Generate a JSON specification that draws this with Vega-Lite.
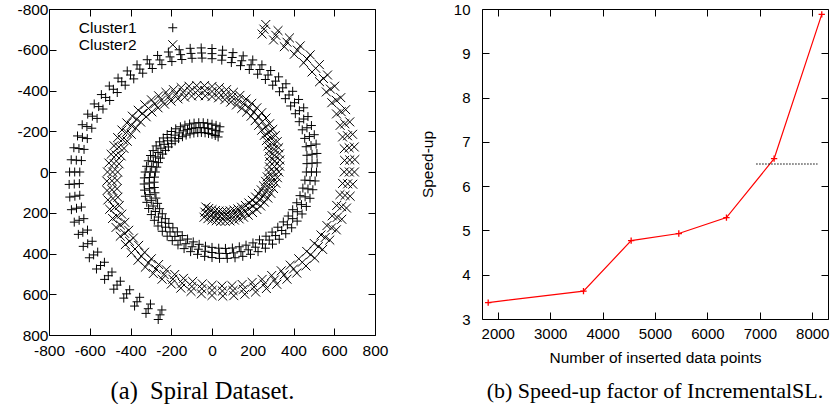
{
"$schema":"https://vega.github.io/schema/vega-lite/v6.json",
"padding":{"left":16,"top":1,"right":0,"bottom":0},
"bounds":"flush",
"spacing":107,
"config":{"font":"Liberation Sans","view":{"stroke":"black","strokeWidth":1},
"axis":{"grid":false,"domain":false,"tickColor":"black","tickSize":-7,"labelColor":"black","labelFont":"Liberation Sans","titleFont":"Liberation Sans","titleColor":"black","titleFontWeight":"normal","labelOverlap":false,"labelFlush":false,"labelExpr":"'' + datum.value"}},
"hconcat":[
{"width":326,"height":326,
"title":{"text":"(a)\u2002Spiral Dataset.","orient":"bottom","font":"Liberation Serif","fontSize":24.5,"fontWeight":"normal","color":"black","anchor":"middle","frame":"bounds","offset":21},
"layer":[
{"data":{"values":[
{"c":"Cluster1","x":30,"y":-172},{"c":"Cluster1","x":35,"y":-197},{"c":"Cluster1","x":39,"y":-222},
{"c":"Cluster1","x":16,"y":-179},{"c":"Cluster1","x":18,"y":-204},{"c":"Cluster1","x":20,"y":-229},
{"c":"Cluster1","x":0,"y":-185},{"c":"Cluster1","x":0,"y":-210},{"c":"Cluster1","x":0,"y":-235},
{"c":"Cluster1","x":-17,"y":-189},{"c":"Cluster1","x":-19,"y":-214},{"c":"Cluster1","x":-21,"y":-239},
{"c":"Cluster1","x":-34,"y":-192},{"c":"Cluster1","x":-38,"y":-217},{"c":"Cluster1","x":-43,"y":-242},
{"c":"Cluster1","x":-52,"y":-194},{"c":"Cluster1","x":-58,"y":-218},{"c":"Cluster1","x":-65,"y":-242},
{"c":"Cluster1","x":-70,"y":-193},{"c":"Cluster1","x":-79,"y":-217},{"c":"Cluster1","x":-88,"y":-240},
{"c":"Cluster1","x":-89,"y":-191},{"c":"Cluster1","x":-100,"y":-214},{"c":"Cluster1","x":-110,"y":-236},
{"c":"Cluster1","x":-108,"y":-187},{"c":"Cluster1","x":-120,"y":-209},{"c":"Cluster1","x":-133,"y":-230},
{"c":"Cluster1","x":-127,"y":-181},{"c":"Cluster1","x":-141,"y":-202},{"c":"Cluster1","x":-155,"y":-222},
{"c":"Cluster1","x":-145,"y":-173},{"c":"Cluster1","x":-161,"y":-192},{"c":"Cluster1","x":-178,"y":-212},
{"c":"Cluster1","x":-164,"y":-164},{"c":"Cluster1","x":-181,"y":-181},{"c":"Cluster1","x":-199,"y":-199},
{"c":"Cluster1","x":-181,"y":-152},{"c":"Cluster1","x":-200,"y":-168},{"c":"Cluster1","x":-220,"y":-184},
{"c":"Cluster1","x":-198,"y":-139},{"c":"Cluster1","x":-218,"y":-153},{"c":"Cluster1","x":-239,"y":-167},
{"c":"Cluster1","x":-214,"y":-123},{"c":"Cluster1","x":-235,"y":-136},{"c":"Cluster1","x":-257,"y":-148},
{"c":"Cluster1","x":-228,"y":-106},{"c":"Cluster1","x":-251,"y":-117},{"c":"Cluster1","x":-274,"y":-128},
{"c":"Cluster1","x":-242,"y":-88},{"c":"Cluster1","x":-265,"y":-96},{"c":"Cluster1","x":-289,"y":-105},
{"c":"Cluster1","x":-253,"y":-68},{"c":"Cluster1","x":-277,"y":-74},{"c":"Cluster1","x":-302,"y":-81},
{"c":"Cluster1","x":-263,"y":-46},{"c":"Cluster1","x":-288,"y":-51},{"c":"Cluster1","x":-313,"y":-55},
{"c":"Cluster1","x":-271,"y":-24},{"c":"Cluster1","x":-296,"y":-26},{"c":"Cluster1","x":-321,"y":-28},
{"c":"Cluster1","x":-278,"y":0},{"c":"Cluster1","x":-303,"y":0},{"c":"Cluster1","x":-328,"y":0},
{"c":"Cluster1","x":-282,"y":25},{"c":"Cluster1","x":-307,"y":27},{"c":"Cluster1","x":-332,"y":29},
{"c":"Cluster1","x":-284,"y":50},{"c":"Cluster1","x":-308,"y":54},{"c":"Cluster1","x":-333,"y":59},
{"c":"Cluster1","x":-283,"y":76},{"c":"Cluster1","x":-307,"y":82},{"c":"Cluster1","x":-331,"y":89},
{"c":"Cluster1","x":-280,"y":102},{"c":"Cluster1","x":-304,"y":111},{"c":"Cluster1","x":-327,"y":119},
{"c":"Cluster1","x":-275,"y":128},{"c":"Cluster1","x":-298,"y":139},{"c":"Cluster1","x":-320,"y":149},
{"c":"Cluster1","x":-267,"y":154},{"c":"Cluster1","x":-289,"y":167},{"c":"Cluster1","x":-311,"y":179},
{"c":"Cluster1","x":-257,"y":180},{"c":"Cluster1","x":-278,"y":194},{"c":"Cluster1","x":-298,"y":209},
{"c":"Cluster1","x":-244,"y":205},{"c":"Cluster1","x":-263,"y":221},{"c":"Cluster1","x":-283,"y":237},
{"c":"Cluster1","x":-229,"y":229},{"c":"Cluster1","x":-247,"y":247},{"c":"Cluster1","x":-265,"y":265},
{"c":"Cluster1","x":-212,"y":252},{"c":"Cluster1","x":-228,"y":271},{"c":"Cluster1","x":-244,"y":291},
{"c":"Cluster1","x":-192,"y":274},{"c":"Cluster1","x":-206,"y":294},{"c":"Cluster1","x":-220,"y":315},
{"c":"Cluster1","x":-170,"y":294},{"c":"Cluster1","x":-182,"y":316},{"c":"Cluster1","x":-195,"y":337},
{"c":"Cluster1","x":-146,"y":312},{"c":"Cluster1","x":-156,"y":335},{"c":"Cluster1","x":-167,"y":358},
{"c":"Cluster1","x":-120,"y":329},{"c":"Cluster1","x":-128,"y":352},{"c":"Cluster1","x":-137,"y":376},
{"c":"Cluster1","x":-92,"y":343},{"c":"Cluster1","x":-98,"y":367},{"c":"Cluster1","x":-105,"y":391},
{"c":"Cluster1","x":-63,"y":355},{"c":"Cluster1","x":-67,"y":379},{"c":"Cluster1","x":-71,"y":404},
{"c":"Cluster1","x":-32,"y":364},{"c":"Cluster1","x":-34,"y":389},{"c":"Cluster1","x":-36,"y":414},
{"c":"Cluster1","x":0,"y":370},{"c":"Cluster1","x":0,"y":395},{"c":"Cluster1","x":0,"y":420},
{"c":"Cluster1","x":33,"y":374},{"c":"Cluster1","x":35,"y":399},{"c":"Cluster1","x":37,"y":424},
{"c":"Cluster1","x":66,"y":375},{"c":"Cluster1","x":70,"y":400},{"c":"Cluster1","x":75,"y":424},
{"c":"Cluster1","x":100,"y":373},{"c":"Cluster1","x":106,"y":397},{"c":"Cluster1","x":113,"y":421},
{"c":"Cluster1","x":134,"y":367},{"c":"Cluster1","x":142,"y":391},{"c":"Cluster1","x":151,"y":414},
{"c":"Cluster1","x":167,"y":359},{"c":"Cluster1","x":178,"y":382},{"c":"Cluster1","x":189,"y":404},
{"c":"Cluster1","x":201,"y":348},{"c":"Cluster1","x":213,"y":369},{"c":"Cluster1","x":226,"y":391},
{"c":"Cluster1","x":233,"y":333},{"c":"Cluster1","x":248,"y":353},{"c":"Cluster1","x":262,"y":374},
{"c":"Cluster1","x":265,"y":315},{"c":"Cluster1","x":281,"y":334},{"c":"Cluster1","x":297,"y":354},
{"c":"Cluster1","x":295,"y":295},{"c":"Cluster1","x":312,"y":312},{"c":"Cluster1","x":330,"y":330},
{"c":"Cluster1","x":323,"y":271},{"c":"Cluster1","x":342,"y":287},{"c":"Cluster1","x":362,"y":303},
{"c":"Cluster1","x":350,"y":245},{"c":"Cluster1","x":370,"y":259},{"c":"Cluster1","x":391,"y":274},
{"c":"Cluster1","x":374,"y":216},{"c":"Cluster1","x":396,"y":229},{"c":"Cluster1","x":418,"y":241},
{"c":"Cluster1","x":396,"y":185},{"c":"Cluster1","x":419,"y":195},{"c":"Cluster1","x":442,"y":206},
{"c":"Cluster1","x":416,"y":151},{"c":"Cluster1","x":439,"y":160},{"c":"Cluster1","x":463,"y":169},
{"c":"Cluster1","x":432,"y":116},{"c":"Cluster1","x":457,"y":122},{"c":"Cluster1","x":481,"y":129},
{"c":"Cluster1","x":446,"y":79},{"c":"Cluster1","x":471,"y":83},{"c":"Cluster1","x":495,"y":87},
{"c":"Cluster1","x":456,"y":40},{"c":"Cluster1","x":481,"y":42},{"c":"Cluster1","x":506,"y":44},
{"c":"Cluster1","x":463,"y":0},{"c":"Cluster1","x":488,"y":0},{"c":"Cluster1","x":513,"y":0},
{"c":"Cluster1","x":466,"y":-41},{"c":"Cluster1","x":491,"y":-43},{"c":"Cluster1","x":516,"y":-45},
{"c":"Cluster1","x":466,"y":-82},{"c":"Cluster1","x":491,"y":-87},{"c":"Cluster1","x":515,"y":-91},
{"c":"Cluster1","x":462,"y":-124},{"c":"Cluster1","x":486,"y":-130},{"c":"Cluster1","x":511,"y":-137},
{"c":"Cluster1","x":455,"y":-165},{"c":"Cluster1","x":478,"y":-174},{"c":"Cluster1","x":502,"y":-183},
{"c":"Cluster1","x":443,"y":-207},{"c":"Cluster1","x":466,"y":-217},{"c":"Cluster1","x":488,"y":-228},
{"c":"Cluster1","x":428,"y":-247},{"c":"Cluster1","x":450,"y":-260},{"c":"Cluster1","x":471,"y":-272},
{"c":"Cluster1","x":409,"y":-286},{"c":"Cluster1","x":429,"y":-301},{"c":"Cluster1","x":450,"y":-315},
{"c":"Cluster1","x":386,"y":-324},{"c":"Cluster1","x":405,"y":-340},{"c":"Cluster1","x":425,"y":-356},
{"c":"Cluster1","x":360,"y":-360},{"c":"Cluster1","x":378,"y":-378},{"c":"Cluster1","x":396,"y":-396},
{"c":"Cluster1","x":331,"y":-394},{"c":"Cluster1","x":347,"y":-413},{"c":"Cluster1","x":363,"y":-433},
{"c":"Cluster1","x":298,"y":-426},{"c":"Cluster1","x":312,"y":-446},{"c":"Cluster1","x":327,"y":-467},
{"c":"Cluster1","x":262,"y":-454},{"c":"Cluster1","x":275,"y":-476},{"c":"Cluster1","x":288,"y":-498},
{"c":"Cluster1","x":224,"y":-480},{"c":"Cluster1","x":235,"y":-503},{"c":"Cluster1","x":245,"y":-526},
{"c":"Cluster1","x":183,"y":-503},{"c":"Cluster1","x":192,"y":-526},{"c":"Cluster1","x":200,"y":-550},
{"c":"Cluster1","x":140,"y":-522},{"c":"Cluster1","x":146,"y":-546},{"c":"Cluster1","x":153,"y":-570},
{"c":"Cluster1","x":95,"y":-537},{"c":"Cluster1","x":99,"y":-562},{"c":"Cluster1","x":103,"y":-586},
{"c":"Cluster1","x":48,"y":-549},{"c":"Cluster1","x":50,"y":-573},{"c":"Cluster1","x":52,"y":-598},
{"c":"Cluster1","x":0,"y":-556},{"c":"Cluster1","x":0,"y":-581},{"c":"Cluster1","x":0,"y":-606},
{"c":"Cluster1","x":-49,"y":-559},{"c":"Cluster1","x":-51,"y":-584},{"c":"Cluster1","x":-53,"y":-609},
{"c":"Cluster1","x":-98,"y":-558},{"c":"Cluster1","x":-103,"y":-582},{"c":"Cluster1","x":-107,"y":-607},
{"c":"Cluster1","x":-148,"y":-552},{"c":"Cluster1","x":-154,"y":-576},{"c":"Cluster1","x":-161,"y":-600},
{"c":"Cluster1","x":-197,"y":-542},{"c":"Cluster1","x":-206,"y":-565},{"c":"Cluster1","x":-214,"y":-589},
{"c":"Cluster1","x":-246,"y":-527},{"c":"Cluster1","x":-256,"y":-550},{"c":"Cluster1","x":-267,"y":-572},
{"c":"Cluster1","x":-293,"y":-508},{"c":"Cluster1","x":-306,"y":-530},{"c":"Cluster1","x":-318,"y":-551},
{"c":"Cluster1","x":-340,"y":-485},{"c":"Cluster1","x":-354,"y":-505},{"c":"Cluster1","x":-368,"y":-526},
{"c":"Cluster1","x":-384,"y":-457},{"c":"Cluster1","x":-400,"y":-476},{"c":"Cluster1","x":-416,"y":-496},
{"c":"Cluster1","x":-426,"y":-426},{"c":"Cluster1","x":-443,"y":-443},{"c":"Cluster1","x":-461,"y":-461},
{"c":"Cluster1","x":-465,"y":-390},{"c":"Cluster1","x":-484,"y":-406},{"c":"Cluster1","x":-504,"y":-422},
{"c":"Cluster1","x":-502,"y":-351},{"c":"Cluster1","x":-522,"y":-366},{"c":"Cluster1","x":-543,"y":-380},
{"c":"Cluster1","x":-535,"y":-309},{"c":"Cluster1","x":-556,"y":-321},{"c":"Cluster1","x":-578,"y":-334},
{"c":"Cluster1","x":-564,"y":-263},{"c":"Cluster1","x":-587,"y":-274},{"c":"Cluster1","x":-610,"y":-284},
{"c":"Cluster1","x":-590,"y":-215},{"c":"Cluster1","x":-614,"y":-223},{"c":"Cluster1","x":-637,"y":-232},
{"c":"Cluster1","x":-612,"y":-164},{"c":"Cluster1","x":-636,"y":-170},{"c":"Cluster1","x":-660,"y":-177},
{"c":"Cluster1","x":-628,"y":-111},{"c":"Cluster1","x":-653,"y":-115},{"c":"Cluster1","x":-678,"y":-119},
{"c":"Cluster1","x":-641,"y":-56},{"c":"Cluster1","x":-666,"y":-58},{"c":"Cluster1","x":-691,"y":-60},
{"c":"Cluster1","x":-649,"y":0},{"c":"Cluster1","x":-674,"y":0},{"c":"Cluster1","x":-699,"y":0},
{"c":"Cluster1","x":-651,"y":57},{"c":"Cluster1","x":-676,"y":59},{"c":"Cluster1","x":-701,"y":61},
{"c":"Cluster1","x":-649,"y":114},{"c":"Cluster1","x":-673,"y":119},{"c":"Cluster1","x":-698,"y":123},
{"c":"Cluster1","x":-641,"y":172},{"c":"Cluster1","x":-665,"y":178},{"c":"Cluster1","x":-690,"y":185},
{"c":"Cluster1","x":-629,"y":229},{"c":"Cluster1","x":-652,"y":237},{"c":"Cluster1","x":-676,"y":246},
{"c":"Cluster1","x":-611,"y":285},{"c":"Cluster1","x":-634,"y":296},{"c":"Cluster1","x":-656,"y":306},
{"c":"Cluster1","x":-588,"y":340},{"c":"Cluster1","x":-610,"y":352},{"c":"Cluster1","x":-632,"y":365},
{"c":"Cluster1","x":-561,"y":393},{"c":"Cluster1","x":-581,"y":407},{"c":"Cluster1","x":-602,"y":421},
{"c":"Cluster1","x":-528,"y":443},{"c":"Cluster1","x":-547,"y":459},{"c":"Cluster1","x":-567,"y":476},
{"c":"Cluster1","x":-491,"y":491},{"c":"Cluster1","x":-509,"y":509},{"c":"Cluster1","x":-527,"y":527},
{"c":"Cluster1","x":-450,"y":536},{"c":"Cluster1","x":-466,"y":555},{"c":"Cluster1","x":-482,"y":575},
{"c":"Cluster1","x":-404,"y":578},{"c":"Cluster1","x":-419,"y":598},{"c":"Cluster1","x":-433,"y":619},
{"c":"Cluster1","x":-355,"y":615},{"c":"Cluster1","x":-368,"y":637},{"c":"Cluster1","x":-380,"y":658},
{"c":"Cluster1","x":-302,"y":648},{"c":"Cluster1","x":-313,"y":671},{"c":"Cluster1","x":-324,"y":694},
{"c":"Cluster1","x":-246,"y":677},{"c":"Cluster1","x":-255,"y":701},{"c":"Cluster1","x":-264,"y":724},
{"c":"Cluster2","x":-30,"y":172},{"c":"Cluster2","x":-35,"y":197},{"c":"Cluster2","x":-39,"y":222},
{"c":"Cluster2","x":-16,"y":179},{"c":"Cluster2","x":-18,"y":204},{"c":"Cluster2","x":-20,"y":229},
{"c":"Cluster2","x":0,"y":185},{"c":"Cluster2","x":0,"y":210},{"c":"Cluster2","x":0,"y":235},
{"c":"Cluster2","x":17,"y":189},{"c":"Cluster2","x":19,"y":214},{"c":"Cluster2","x":21,"y":239},
{"c":"Cluster2","x":34,"y":192},{"c":"Cluster2","x":38,"y":217},{"c":"Cluster2","x":43,"y":242},
{"c":"Cluster2","x":52,"y":194},{"c":"Cluster2","x":58,"y":218},{"c":"Cluster2","x":65,"y":242},
{"c":"Cluster2","x":70,"y":193},{"c":"Cluster2","x":79,"y":217},{"c":"Cluster2","x":88,"y":240},
{"c":"Cluster2","x":89,"y":191},{"c":"Cluster2","x":100,"y":214},{"c":"Cluster2","x":110,"y":236},
{"c":"Cluster2","x":108,"y":187},{"c":"Cluster2","x":120,"y":209},{"c":"Cluster2","x":133,"y":230},
{"c":"Cluster2","x":127,"y":181},{"c":"Cluster2","x":141,"y":202},{"c":"Cluster2","x":155,"y":222},
{"c":"Cluster2","x":145,"y":173},{"c":"Cluster2","x":161,"y":192},{"c":"Cluster2","x":178,"y":212},
{"c":"Cluster2","x":164,"y":164},{"c":"Cluster2","x":181,"y":181},{"c":"Cluster2","x":199,"y":199},
{"c":"Cluster2","x":181,"y":152},{"c":"Cluster2","x":200,"y":168},{"c":"Cluster2","x":220,"y":184},
{"c":"Cluster2","x":198,"y":139},{"c":"Cluster2","x":218,"y":153},{"c":"Cluster2","x":239,"y":167},
{"c":"Cluster2","x":214,"y":123},{"c":"Cluster2","x":235,"y":136},{"c":"Cluster2","x":257,"y":148},
{"c":"Cluster2","x":228,"y":106},{"c":"Cluster2","x":251,"y":117},{"c":"Cluster2","x":274,"y":128},
{"c":"Cluster2","x":242,"y":88},{"c":"Cluster2","x":265,"y":96},{"c":"Cluster2","x":289,"y":105},
{"c":"Cluster2","x":253,"y":68},{"c":"Cluster2","x":277,"y":74},{"c":"Cluster2","x":302,"y":81},
{"c":"Cluster2","x":263,"y":46},{"c":"Cluster2","x":288,"y":51},{"c":"Cluster2","x":313,"y":55},
{"c":"Cluster2","x":271,"y":24},{"c":"Cluster2","x":296,"y":26},{"c":"Cluster2","x":321,"y":28},
{"c":"Cluster2","x":278,"y":0},{"c":"Cluster2","x":303,"y":0},{"c":"Cluster2","x":328,"y":0},
{"c":"Cluster2","x":282,"y":-25},{"c":"Cluster2","x":307,"y":-27},{"c":"Cluster2","x":332,"y":-29},
{"c":"Cluster2","x":284,"y":-50},{"c":"Cluster2","x":308,"y":-54},{"c":"Cluster2","x":333,"y":-59},
{"c":"Cluster2","x":283,"y":-76},{"c":"Cluster2","x":307,"y":-82},{"c":"Cluster2","x":331,"y":-89},
{"c":"Cluster2","x":280,"y":-102},{"c":"Cluster2","x":304,"y":-111},{"c":"Cluster2","x":327,"y":-119},
{"c":"Cluster2","x":275,"y":-128},{"c":"Cluster2","x":298,"y":-139},{"c":"Cluster2","x":320,"y":-149},
{"c":"Cluster2","x":267,"y":-154},{"c":"Cluster2","x":289,"y":-167},{"c":"Cluster2","x":311,"y":-179},
{"c":"Cluster2","x":257,"y":-180},{"c":"Cluster2","x":278,"y":-194},{"c":"Cluster2","x":298,"y":-209},
{"c":"Cluster2","x":244,"y":-205},{"c":"Cluster2","x":263,"y":-221},{"c":"Cluster2","x":283,"y":-237},
{"c":"Cluster2","x":229,"y":-229},{"c":"Cluster2","x":247,"y":-247},{"c":"Cluster2","x":265,"y":-265},
{"c":"Cluster2","x":212,"y":-252},{"c":"Cluster2","x":228,"y":-271},{"c":"Cluster2","x":244,"y":-291},
{"c":"Cluster2","x":192,"y":-274},{"c":"Cluster2","x":206,"y":-294},{"c":"Cluster2","x":220,"y":-315},
{"c":"Cluster2","x":170,"y":-294},{"c":"Cluster2","x":182,"y":-316},{"c":"Cluster2","x":195,"y":-337},
{"c":"Cluster2","x":146,"y":-312},{"c":"Cluster2","x":156,"y":-335},{"c":"Cluster2","x":167,"y":-358},
{"c":"Cluster2","x":120,"y":-329},{"c":"Cluster2","x":128,"y":-352},{"c":"Cluster2","x":137,"y":-376},
{"c":"Cluster2","x":92,"y":-343},{"c":"Cluster2","x":98,"y":-367},{"c":"Cluster2","x":105,"y":-391},
{"c":"Cluster2","x":63,"y":-355},{"c":"Cluster2","x":67,"y":-379},{"c":"Cluster2","x":71,"y":-404},
{"c":"Cluster2","x":32,"y":-364},{"c":"Cluster2","x":34,"y":-389},{"c":"Cluster2","x":36,"y":-414},
{"c":"Cluster2","x":0,"y":-370},{"c":"Cluster2","x":0,"y":-395},{"c":"Cluster2","x":0,"y":-420},
{"c":"Cluster2","x":-33,"y":-374},{"c":"Cluster2","x":-35,"y":-399},{"c":"Cluster2","x":-37,"y":-424},
{"c":"Cluster2","x":-66,"y":-375},{"c":"Cluster2","x":-70,"y":-400},{"c":"Cluster2","x":-75,"y":-424},
{"c":"Cluster2","x":-100,"y":-373},{"c":"Cluster2","x":-106,"y":-397},{"c":"Cluster2","x":-113,"y":-421},
{"c":"Cluster2","x":-134,"y":-367},{"c":"Cluster2","x":-142,"y":-391},{"c":"Cluster2","x":-151,"y":-414},
{"c":"Cluster2","x":-167,"y":-359},{"c":"Cluster2","x":-178,"y":-382},{"c":"Cluster2","x":-189,"y":-404},
{"c":"Cluster2","x":-201,"y":-348},{"c":"Cluster2","x":-213,"y":-369},{"c":"Cluster2","x":-226,"y":-391},
{"c":"Cluster2","x":-233,"y":-333},{"c":"Cluster2","x":-248,"y":-353},{"c":"Cluster2","x":-262,"y":-374},
{"c":"Cluster2","x":-265,"y":-315},{"c":"Cluster2","x":-281,"y":-334},{"c":"Cluster2","x":-297,"y":-354},
{"c":"Cluster2","x":-295,"y":-295},{"c":"Cluster2","x":-312,"y":-312},{"c":"Cluster2","x":-330,"y":-330},
{"c":"Cluster2","x":-323,"y":-271},{"c":"Cluster2","x":-342,"y":-287},{"c":"Cluster2","x":-362,"y":-303},
{"c":"Cluster2","x":-350,"y":-245},{"c":"Cluster2","x":-370,"y":-259},{"c":"Cluster2","x":-391,"y":-274},
{"c":"Cluster2","x":-374,"y":-216},{"c":"Cluster2","x":-396,"y":-229},{"c":"Cluster2","x":-418,"y":-241},
{"c":"Cluster2","x":-396,"y":-185},{"c":"Cluster2","x":-419,"y":-195},{"c":"Cluster2","x":-442,"y":-206},
{"c":"Cluster2","x":-416,"y":-151},{"c":"Cluster2","x":-439,"y":-160},{"c":"Cluster2","x":-463,"y":-169},
{"c":"Cluster2","x":-432,"y":-116},{"c":"Cluster2","x":-457,"y":-122},{"c":"Cluster2","x":-481,"y":-129},
{"c":"Cluster2","x":-446,"y":-79},{"c":"Cluster2","x":-471,"y":-83},{"c":"Cluster2","x":-495,"y":-87},
{"c":"Cluster2","x":-456,"y":-40},{"c":"Cluster2","x":-481,"y":-42},{"c":"Cluster2","x":-506,"y":-44},
{"c":"Cluster2","x":-463,"y":0},{"c":"Cluster2","x":-488,"y":0},{"c":"Cluster2","x":-513,"y":0},
{"c":"Cluster2","x":-466,"y":41},{"c":"Cluster2","x":-491,"y":43},{"c":"Cluster2","x":-516,"y":45},
{"c":"Cluster2","x":-466,"y":82},{"c":"Cluster2","x":-491,"y":87},{"c":"Cluster2","x":-515,"y":91},
{"c":"Cluster2","x":-462,"y":124},{"c":"Cluster2","x":-486,"y":130},{"c":"Cluster2","x":-511,"y":137},
{"c":"Cluster2","x":-455,"y":165},{"c":"Cluster2","x":-478,"y":174},{"c":"Cluster2","x":-502,"y":183},
{"c":"Cluster2","x":-443,"y":207},{"c":"Cluster2","x":-466,"y":217},{"c":"Cluster2","x":-488,"y":228},
{"c":"Cluster2","x":-428,"y":247},{"c":"Cluster2","x":-450,"y":260},{"c":"Cluster2","x":-471,"y":272},
{"c":"Cluster2","x":-409,"y":286},{"c":"Cluster2","x":-429,"y":301},{"c":"Cluster2","x":-450,"y":315},
{"c":"Cluster2","x":-386,"y":324},{"c":"Cluster2","x":-405,"y":340},{"c":"Cluster2","x":-425,"y":356},
{"c":"Cluster2","x":-360,"y":360},{"c":"Cluster2","x":-378,"y":378},{"c":"Cluster2","x":-396,"y":396},
{"c":"Cluster2","x":-331,"y":394},{"c":"Cluster2","x":-347,"y":413},{"c":"Cluster2","x":-363,"y":433},
{"c":"Cluster2","x":-298,"y":426},{"c":"Cluster2","x":-312,"y":446},{"c":"Cluster2","x":-327,"y":467},
{"c":"Cluster2","x":-262,"y":454},{"c":"Cluster2","x":-275,"y":476},{"c":"Cluster2","x":-288,"y":498},
{"c":"Cluster2","x":-224,"y":480},{"c":"Cluster2","x":-235,"y":503},{"c":"Cluster2","x":-245,"y":526},
{"c":"Cluster2","x":-183,"y":503},{"c":"Cluster2","x":-192,"y":526},{"c":"Cluster2","x":-200,"y":550},
{"c":"Cluster2","x":-140,"y":522},{"c":"Cluster2","x":-146,"y":546},{"c":"Cluster2","x":-153,"y":570},
{"c":"Cluster2","x":-95,"y":537},{"c":"Cluster2","x":-99,"y":562},{"c":"Cluster2","x":-103,"y":586},
{"c":"Cluster2","x":-48,"y":549},{"c":"Cluster2","x":-50,"y":573},{"c":"Cluster2","x":-52,"y":598},
{"c":"Cluster2","x":0,"y":556},{"c":"Cluster2","x":0,"y":581},{"c":"Cluster2","x":0,"y":606},
{"c":"Cluster2","x":49,"y":559},{"c":"Cluster2","x":51,"y":584},{"c":"Cluster2","x":53,"y":609},
{"c":"Cluster2","x":98,"y":558},{"c":"Cluster2","x":103,"y":582},{"c":"Cluster2","x":107,"y":607},
{"c":"Cluster2","x":148,"y":552},{"c":"Cluster2","x":154,"y":576},{"c":"Cluster2","x":161,"y":600},
{"c":"Cluster2","x":197,"y":542},{"c":"Cluster2","x":206,"y":565},{"c":"Cluster2","x":214,"y":589},
{"c":"Cluster2","x":246,"y":527},{"c":"Cluster2","x":256,"y":550},{"c":"Cluster2","x":267,"y":572},
{"c":"Cluster2","x":293,"y":508},{"c":"Cluster2","x":306,"y":530},{"c":"Cluster2","x":318,"y":551},
{"c":"Cluster2","x":340,"y":485},{"c":"Cluster2","x":354,"y":505},{"c":"Cluster2","x":368,"y":526},
{"c":"Cluster2","x":384,"y":457},{"c":"Cluster2","x":400,"y":476},{"c":"Cluster2","x":416,"y":496},
{"c":"Cluster2","x":426,"y":426},{"c":"Cluster2","x":443,"y":443},{"c":"Cluster2","x":461,"y":461},
{"c":"Cluster2","x":465,"y":390},{"c":"Cluster2","x":484,"y":406},{"c":"Cluster2","x":504,"y":422},
{"c":"Cluster2","x":502,"y":351},{"c":"Cluster2","x":522,"y":366},{"c":"Cluster2","x":543,"y":380},
{"c":"Cluster2","x":535,"y":309},{"c":"Cluster2","x":556,"y":321},{"c":"Cluster2","x":578,"y":334},
{"c":"Cluster2","x":564,"y":263},{"c":"Cluster2","x":587,"y":274},{"c":"Cluster2","x":610,"y":284},
{"c":"Cluster2","x":590,"y":215},{"c":"Cluster2","x":614,"y":223},{"c":"Cluster2","x":637,"y":232},
{"c":"Cluster2","x":612,"y":164},{"c":"Cluster2","x":636,"y":170},{"c":"Cluster2","x":660,"y":177},
{"c":"Cluster2","x":628,"y":111},{"c":"Cluster2","x":653,"y":115},{"c":"Cluster2","x":678,"y":119},
{"c":"Cluster2","x":641,"y":56},{"c":"Cluster2","x":666,"y":58},{"c":"Cluster2","x":691,"y":60},
{"c":"Cluster2","x":649,"y":0},{"c":"Cluster2","x":674,"y":0},{"c":"Cluster2","x":699,"y":0},
{"c":"Cluster2","x":651,"y":-57},{"c":"Cluster2","x":676,"y":-59},{"c":"Cluster2","x":701,"y":-61},
{"c":"Cluster2","x":649,"y":-114},{"c":"Cluster2","x":673,"y":-119},{"c":"Cluster2","x":698,"y":-123},
{"c":"Cluster2","x":641,"y":-172},{"c":"Cluster2","x":665,"y":-178},{"c":"Cluster2","x":690,"y":-185},
{"c":"Cluster2","x":629,"y":-229},{"c":"Cluster2","x":652,"y":-237},{"c":"Cluster2","x":676,"y":-246},
{"c":"Cluster2","x":611,"y":-285},{"c":"Cluster2","x":634,"y":-296},{"c":"Cluster2","x":656,"y":-306},
{"c":"Cluster2","x":588,"y":-340},{"c":"Cluster2","x":610,"y":-352},{"c":"Cluster2","x":632,"y":-365},
{"c":"Cluster2","x":561,"y":-393},{"c":"Cluster2","x":581,"y":-407},{"c":"Cluster2","x":602,"y":-421},
{"c":"Cluster2","x":528,"y":-443},{"c":"Cluster2","x":547,"y":-459},{"c":"Cluster2","x":567,"y":-476},
{"c":"Cluster2","x":491,"y":-491},{"c":"Cluster2","x":509,"y":-509},{"c":"Cluster2","x":527,"y":-527},
{"c":"Cluster2","x":450,"y":-536},{"c":"Cluster2","x":466,"y":-555},{"c":"Cluster2","x":482,"y":-575},
{"c":"Cluster2","x":404,"y":-578},{"c":"Cluster2","x":419,"y":-598},{"c":"Cluster2","x":433,"y":-619},
{"c":"Cluster2","x":355,"y":-615},{"c":"Cluster2","x":368,"y":-637},{"c":"Cluster2","x":380,"y":-658},
{"c":"Cluster2","x":302,"y":-648},{"c":"Cluster2","x":313,"y":-671},{"c":"Cluster2","x":324,"y":-694},
{"c":"Cluster2","x":246,"y":-677},{"c":"Cluster2","x":255,"y":-701},{"c":"Cluster2","x":264,"y":-724}
]},
"mark":{"type":"point","filled":false,"size":80,"strokeWidth":1,"color":"black","opacity":1},
"encoding":{
"x":{"field":"x","type":"quantitative","scale":{"domain":[-800,800],"nice":false,"zero":false},"axis":{"orient":"bottom","values":[-800,-600,-400,-200,0,200,400,600,800],"title":null,"labelFontSize":15.5,"labelPadding":15}},
"y":{"field":"y","type":"quantitative","scale":{"domain":[-800,800],"reverse":true,"nice":false,"zero":false},"axis":{"orient":"left","values":[-800,-600,-400,-200,0,200,400,600,800],"title":null,"labelFontSize":15.5,"labelPadding":8}},
"shape":{"field":"c","type":"nominal","scale":{"domain":["Cluster1","Cluster2"],"range":["M-1,0H1M0,-1V1","M-1,-1L1,1M-1,1L1,-1"]},
"legend":{"orient":"none","legendX":116,"legendY":11,"title":null,"labelFont":"Liberation Sans","labelFontSize":15.5,"labelColor":"black","labelAlign":"right","labelOffset":-44,"symbolSize":80,"symbolStrokeWidth":1,"symbolStrokeColor":"black","symbolFillColor":"transparent","rowPadding":-1.5}}
}},
{"data":{"values":[{"x":0,"y":0}]},
"mark":{"type":"point","opacity":0},
"encoding":{
"x":{"field":"x","type":"quantitative","scale":{"domain":[-800,800],"nice":false,"zero":false},"axis":{"orient":"top","values":[-800,-600,-400,-200,0,200,400,600,800],"title":null,"labels":false}},
"y":{"field":"y","type":"quantitative","scale":{"domain":[-800,800],"reverse":true,"nice":false,"zero":false},"axis":{"orient":"right","values":[-800,-600,-400,-200,0,200,400,600,800],"title":null,"labels":false}}
}}
],
"resolve":{"axis":{"x":"independent","y":"independent"}}
},
{"width":346,"height":310,
"title":{"text":"(b) Speed-up factor of IncrementalSL.","orient":"bottom","font":"Liberation Serif","fontSize":22,"fontWeight":"normal","color":"black","anchor":"middle","frame":"group","offset":15},
"layer":[
{"data":{"values":[{"n":1818,"s":3.37},{"n":3636,"s":3.63},{"n":4545,"s":4.77},{"n":5454,"s":4.93},{"n":6363,"s":5.29},{"n":7272,"s":6.62},{"n":8181,"s":9.88}]},
"mark":{"type":"line","color":"#ff0000","strokeWidth":1.2},
"encoding":{
"x":{"field":"n","type":"quantitative","scale":{"domain":[1700,8300],"nice":false,"zero":false},"axis":{"orient":"bottom","values":[2000,3000,4000,5000,6000,7000,8000],"title":"Number of inserted data points","titleFontSize":15.5,"titlePadding":9,"labelFontSize":15,"labelPadding":14}},
"y":{"field":"s","type":"quantitative","scale":{"domain":[3,10],"nice":false,"zero":false},"axis":{"orient":"left","values":[3,4,5,6,7,8,9,10],"title":"Speed-up","titleFontSize":15.5,"titlePadding":18,"labelFontSize":15,"labelPadding":19}}
}},
{"data":{"values":[{"n":1818,"s":3.37},{"n":3636,"s":3.63},{"n":4545,"s":4.77},{"n":5454,"s":4.93},{"n":6363,"s":5.29},{"n":7272,"s":6.62},{"n":8181,"s":9.88}]},
"mark":{"type":"point","shape":"M-1,0H1M0,-1V1","filled":false,"size":40,"strokeWidth":1.3,"color":"#ff0000","opacity":1},
"encoding":{
"x":{"field":"n","type":"quantitative","scale":{"domain":[1700,8300],"nice":false,"zero":false},"axis":null},
"y":{"field":"s","type":"quantitative","scale":{"domain":[3,10],"nice":false,"zero":false},"axis":null}
}},
{"data":{"values":[{"n":6930,"n2":8100,"s":6.5}]},
"mark":{"type":"rule","color":"black","strokeWidth":1,"strokeDash":[1.5,1.5]},
"encoding":{
"x":{"field":"n","type":"quantitative","scale":{"domain":[1700,8300],"nice":false,"zero":false},"axis":null},
"x2":{"field":"n2"},
"y":{"field":"s","type":"quantitative","scale":{"domain":[3,10],"nice":false,"zero":false},"axis":null}
}},
{"data":{"values":[{"n":5000,"s":5}]},
"mark":{"type":"point","opacity":0},
"encoding":{
"x":{"field":"n","type":"quantitative","scale":{"domain":[1700,8300],"nice":false,"zero":false},"axis":{"orient":"top","values":[2000,3000,4000,5000,6000,7000,8000],"title":null,"labels":false}},
"y":{"field":"s","type":"quantitative","scale":{"domain":[3,10],"nice":false,"zero":false},"axis":{"orient":"right","values":[3,4,5,6,7,8,9,10],"title":null,"labels":false}}
}}
],
"resolve":{"axis":{"x":"independent","y":"independent"}}
}
]
}
